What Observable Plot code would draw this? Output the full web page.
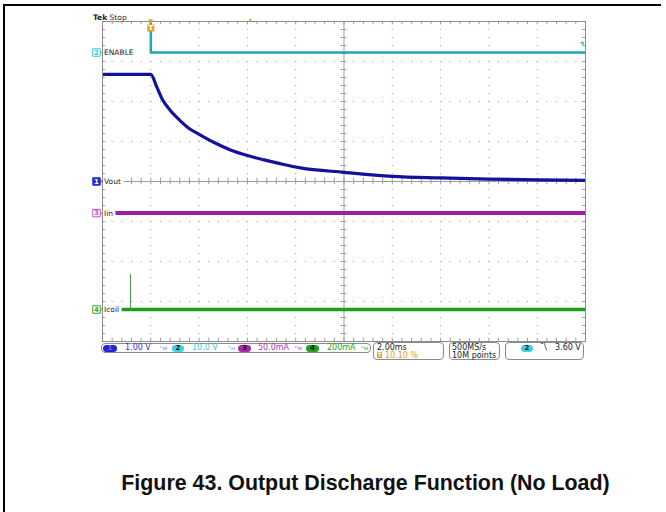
<!DOCTYPE html>
<html>
<head>
<meta charset="utf-8">
<script src="https://cdn.jsdelivr.net/npm/d3@7"></script>
<script src="https://cdn.jsdelivr.net/npm/@observablehq/plot@0.6"></script>
<style>
  body { margin: 0; background: #fff; }
  #page { position: relative; width: 666px; height: 512px; overflow: hidden; font-family: "DejaVu Sans", sans-serif; }
  #chart { position: absolute; left: 0; top: 0; }
  .ln { position: absolute; background: #000; }
  .box { position: absolute; border: 1px solid #8a8a8a; border-radius: 4px; box-sizing: border-box; background: #fff; }
  .t { position: absolute; font-size: 8px; line-height: 8px; white-space: nowrap; }
  .ov { position: absolute; height: 7px; border-radius: 4px; font-size: 7px; line-height: 7px; font-weight: bold; text-align: center; color: #111; }
  .bw { position: absolute; font-size: 6px; line-height: 6px; opacity: 0.8; }
  #tek { position: absolute; left: 93px; top: 13.5px; font-size: 7.5px; line-height: 7.5px; color: #222; white-space: nowrap; }
  #caption { position: absolute; left: 100px; width: 531px; top: 473px; text-align: center; font-family: "Liberation Sans", Arial, sans-serif; font-weight: bold; font-size: 21.4px; line-height: 21.4px; color: #111; white-space: nowrap; }
</style>
</head>
<body>
<div id="page">
  <div id="chart"></div>
  <div class="ln" style="left:3px;top:4px;width:658px;height:1.5px"></div>
  <div class="ln" style="left:3px;top:4px;width:1.5px;height:508px"></div>
  <div id="tek"><b>Tek</b> Stop</div>

  <div class="box" style="left:101px;top:343px;width:270px;height:10px"></div>
  <div class="ov" style="left:103px;top:344.5px;width:14px;background:#2424d4;color:#6a6af0">1</div>
  <div class="t" style="left:125px;top:344px;color:#3434c8">1.00 V</div>
  <div class="bw" style="left:160px;top:345px;color:#6a7ad0">ᵇw</div>
  <div class="ov" style="left:172px;top:344.5px;width:12px;background:#3cd2e0">2</div>
  <div class="t" style="left:192px;top:344px;color:#3cc8d8">10.0 V</div>
  <div class="bw" style="left:228px;top:345px;color:#3cc8d8">ᵇw</div>
  <div class="ov" style="left:238px;top:344.5px;width:13px;background:#a02aa8">3</div>
  <div class="t" style="left:258px;top:344px;color:#b035b5">50.0mA</div>
  <div class="bw" style="left:295px;top:345px;color:#b035b5">ᵇw</div>
  <div class="ov" style="left:306px;top:344.5px;width:13px;background:#1fa01f">4</div>
  <div class="t" style="left:327px;top:344px;color:#21a321">200mA</div>
  <div class="bw" style="left:361px;top:345px;color:#21a321">ᵇw</div>

  <div class="box" style="left:373px;top:342px;width:71px;height:18px"></div>
  <div class="t" style="left:377px;top:343.5px;color:#222">2.00ms</div>
  <div class="t" style="left:377px;top:352px;width:5px;height:6px;background:#e8a020;color:#fff;font-size:6px;line-height:6px;font-weight:bold;text-align:center">T</div>
  <div class="t" style="left:385px;top:352px;color:#e89a1a">10.10 %</div>

  <div class="box" style="left:449px;top:342px;width:51px;height:18px"></div>
  <div class="t" style="left:452px;top:343.5px;color:#222">500MS/s</div>
  <div class="t" style="left:452px;top:352px;color:#222">10M points</div>

  <div class="box" style="left:505px;top:342px;width:79px;height:18px"></div>
  <div class="ov" style="left:521px;top:344.5px;width:12px;background:#3cd2e0">2</div>
  <div class="t" style="left:540px;top:344px;color:#222">ˉ\</div>
  <div class="t" style="left:555px;top:344px;color:#222">3.60 V</div>

  <div id="caption">Figure 43. Output Discharge Function (No Load)</div>
</div>
<script>
// ---- Data read from the scope capture (time in ms, trigger at t = 0) ----
const timeDomainMs = [-2, 18];          // 2.00 ms/div, 10 divisions, trigger at 10 %
const channelNames = ["Vout", "ENABLE", "Iin", "Icoil"];
const channelNums = ["1", "2", "3", "4"];
const channelPerDiv = [1.0, 10.0, 50.0, 200.0];   // V/div, V/div, mA/div, mA/div
const channelOffsetDiv = [0, 3.225, -0.79, -3.2]; // ground-marker position in divisions
const traceColors = ["#12129a", "#22a8b0", "#a01ea6", "#1c9e1c"];
const markerColors = ["#2a2ad6", "#34c8d6", "#c050c8", "#34a834"];

// Ch1 Vout (V)
const voutT = [-2, 0, 0.25, 0.5, 0.8, 1.2, 1.6, 2.0, 2.6, 3.3, 4.0, 4.7, 5.4, 6.2, 8.0, 10, 12, 14, 16, 18];
const voutV = [2.68, 2.68, 2.36, 2.03, 1.78, 1.53, 1.32, 1.18, 0.98, 0.79, 0.65, 0.54, 0.44, 0.34, 0.23, 0.13, 0.09, 0.06, 0.04, 0.03];
// Ch2 ENABLE (V) — high level is off-screen before the falling edge
const enableT = [-2, 0, 0, 18];
const enableV = [10, 10, 0, 0];
// Ch3 Iin (mA)
const iinT = [-2, 18];
const iinMA = [0, 0];
// Ch4 Icoil (mA) with a short spike before the trigger
const icoilT = [-2, 18];
const icoilMA = [0, 0];
const icoilSpikeT = [-0.84, -0.84];
const icoilSpikeMA = [0, 175];
// Trigger settings
const triggerT = [0];
const triggerLevelMarkerV = [2.4];
const expansionMarkT = [4.13];

// ---- build tables ----
const scaled = (ts, vs, ch) => ts.map((t, i) => ({t, y: channelOffsetDiv[ch] + vs[i] / channelPerDiv[ch]}));
const chRows = channelNames.map((name, i) => ({
  name, num: channelNums[i], y: channelOffsetDiv[i], color: markerColors[i], filled: i === 0
}));

const xDivs = d3.range(0, 11).map(i => timeDomainMs[0] + i * 2);
const yDivs = d3.range(-4, 5);
const xMinor = d3.range(0, 51).map(i => timeDomainMs[0] + i * 0.4);
const yMinor = d3.range(0, 41).map(i => -4 + i * 0.2);
const gridC = "#9c9c9c";

const plot = Plot.plot({
  width: 666,
  height: 366,
  marginLeft: 102,
  marginRight: 81,
  marginTop: 21,
  marginBottom: 25,
  x: {domain: timeDomainMs, axis: null},
  y: {domain: [-4, 4], axis: null},
  style: {background: "transparent", fontFamily: "DejaVu Sans, sans-serif"},
  marks: [
    // graticule
    Plot.ruleX(xDivs.filter(v => v !== -2 && v !== 18 && v !== 8), {stroke: gridC, strokeDasharray: "1,7"}),
    Plot.ruleY(yDivs.filter(v => Math.abs(v) !== 4 && v !== 0), {stroke: gridC, strokeDasharray: "1,8.66"}),
    Plot.ruleX([8], {stroke: gridC}),
    Plot.ruleY([0], {stroke: gridC}),
    Plot.ruleX(xMinor, {y1: -0.08, y2: 0.08, stroke: gridC}),
    Plot.ruleX(xMinor, {y1: 4, y2: 3.92, stroke: gridC}),
    Plot.ruleX(xMinor, {y1: -4, y2: -3.92, stroke: gridC}),
    Plot.ruleY(yMinor, {x1: 7.88, x2: 8.12, stroke: gridC}),
    Plot.ruleY(yMinor, {x1: -2, x2: -1.88, stroke: gridC}),
    Plot.ruleY(yMinor, {x1: 18, x2: 17.88, stroke: gridC}),

    // traces
    Plot.line(scaled(enableT, enableV, 1), {x: "t", y: "y", stroke: traceColors[1], strokeWidth: 2.5, clip: true}),
    Plot.line(scaled(iinT, iinMA, 2), {x: "t", y: "y", stroke: traceColors[2], strokeWidth: 4, clip: true}),
    Plot.line(scaled(icoilT, icoilMA, 3), {x: "t", y: "y", stroke: traceColors[3], strokeWidth: 3.5, clip: true}),
    Plot.line(scaled(icoilSpikeT, icoilSpikeMA, 3), {x: "t", y: "y", stroke: "#4f9a4f", strokeWidth: 1, clip: true}),
    Plot.line(scaled(voutT, voutV, 0), {x: "t", y: "y", stroke: traceColors[0], strokeWidth: 3.2, curve: "monotone-x", clip: true}),

    // channel labels (white backing, then text)
    Plot.text(chRows, {x: timeDomainMs[0], y: "y", dx: 1.5, text: "name", textAnchor: "start", fontSize: 7.5, fill: "white", stroke: "white", strokeWidth: 6}),
    Plot.text(chRows, {x: timeDomainMs[0], y: "y", dx: 1.5, text: "name", textAnchor: "start", fontSize: 7.5, fill: "#222"}),
    Plot.frame({stroke: "#8c8c8c"}),
    // channel markers
    Plot.text(chRows, {x: timeDomainMs[0], y: "y", dx: -1.5, text: () => "›", fill: "color", fontSize: 9}),
    Plot.dot(chRows, {x: timeDomainMs[0], y: "y", dx: -6, symbol: "square", r: 4.2, fill: d => d.filled ? d.color : "white", stroke: "color", strokeWidth: 1}),
    Plot.text(chRows, {x: timeDomainMs[0], y: "y", dx: -6, text: "num", fill: d => d.filled ? "#ffffff" : d.color, fontSize: 7, fontWeight: "bold"}),

    // trigger position marker
    Plot.text(triggerT, {x: d => d, y: 4, dy: -0.5, text: () => "▼", fill: "#f0a01e", fontSize: 6}),
    Plot.dot(triggerT, {x: d => d, y: 4, dy: 6.5, symbol: "square", r: 4, fill: "#f0a01e"}),
    Plot.text(triggerT, {x: d => d, y: 4, dy: 6.5, text: () => "T", fill: "white", fontSize: 7, fontWeight: "bold"}),
    Plot.text(expansionMarkT, {x: d => d, y: 4, dy: -1.5, text: () => "▾", fill: "#f0a01e", fontSize: 6}),
    // trigger level marker (right edge)
    Plot.text(triggerLevelMarkerV, {x: timeDomainMs[1], y: d => channelOffsetDiv[1] + d / channelPerDiv[1], dx: -4, text: () => "◂", fill: "#30d0e0", fontSize: 8})
  ]
});
document.getElementById("chart").appendChild(plot);
</script>
</body>
</html>
